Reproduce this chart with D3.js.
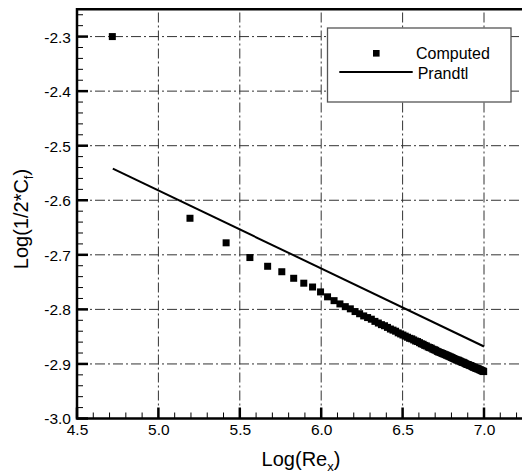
<!DOCTYPE html>
<html>
<head>
<meta charset="utf-8">
<script src="https://cdn.jsdelivr.net/npm/d3@7"></script>
<style>
  body { margin: 0; background: #ffffff; }
  svg text { font-family: "Liberation Sans", Arial, sans-serif; fill: #000; }
</style>
</head>
<body>
<svg id="viz" width="522" height="475"></svg>
<script>
// computed skin friction: log(Re_x) and log(Cf/2)
const computed_x = [4.717, 5.194, 5.416, 5.562, 5.671, 5.758, 5.831, 5.893, 5.947, 5.996,
  6.039, 6.079, 6.115, 6.148, 6.179, 6.208, 6.236, 6.261, 6.285, 6.308,
  6.330, 6.351, 6.370, 6.389, 6.407, 6.425, 6.441, 6.457, 6.473, 6.488,
  6.502, 6.516, 6.530, 6.543, 6.556, 6.568, 6.580, 6.592, 6.604, 6.615,
  6.626, 6.636, 6.646, 6.657, 6.666, 6.676, 6.686, 6.695, 6.704, 6.713,
  6.721, 6.730, 6.738, 6.746, 6.754, 6.762, 6.770, 6.778, 6.785, 6.793,
  6.800, 6.807, 6.814, 6.821, 6.828, 6.834, 6.841, 6.847, 6.854, 6.860,
  6.866, 6.872, 6.878, 6.884, 6.890, 6.896, 6.902, 6.907, 6.913, 6.918,
  6.924, 6.929, 6.935, 6.940, 6.945, 6.950, 6.955, 6.960, 6.965, 6.970,
  6.975, 6.980, 6.984, 6.989, 6.994, 6.998];
const computed_y = [-2.300, -2.633, -2.678, -2.705, -2.721, -2.731, -2.743, -2.752, -2.759, -2.768,
  -2.777, -2.784, -2.790, -2.795, -2.799, -2.804, -2.808, -2.812, -2.815, -2.818,
  -2.822, -2.825, -2.828, -2.830, -2.833, -2.836, -2.838, -2.840, -2.843, -2.845,
  -2.847, -2.849, -2.851, -2.853, -2.854, -2.856, -2.858, -2.859, -2.861, -2.863,
  -2.864, -2.866, -2.867, -2.869, -2.870, -2.871, -2.873, -2.874, -2.875, -2.877,
  -2.878, -2.879, -2.880, -2.881, -2.882, -2.883, -2.884, -2.885, -2.886, -2.887,
  -2.888, -2.889, -2.890, -2.891, -2.892, -2.893, -2.893, -2.894, -2.895, -2.896,
  -2.897, -2.897, -2.898, -2.899, -2.900, -2.901, -2.901, -2.902, -2.903, -2.903,
  -2.904, -2.905, -2.906, -2.906, -2.907, -2.908, -2.908, -2.909, -2.909, -2.910,
  -2.911, -2.911, -2.912, -2.913, -2.913, -2.914];

// Prandtl reference line
const prandtl_x = [4.72, 7.0];
const prandtl_y = [-2.542, -2.868];

const x_ticks = [4.5, 5.0, 5.5, 6.0, 6.5, 7.0];
const y_ticks = [-3.0, -2.9, -2.8, -2.7, -2.6, -2.5, -2.4, -2.3];
const legend_names = ["Computed", "Prandtl"];

let svg = d3.select("#viz");

let x = d3.scaleLinear().domain([4.5, 7.25]).range([77, 524.7]);
let y = d3.scaleLinear().domain([-3.0, -2.25]).range([418.5, 9.3]);

let p_left = x(4.5), p_right = x(7.25), p_top = y(-2.25), p_bottom = y(-3.0);

// plain hyphen for the minus sign, like the original
let fmt = d => d.toFixed(1);

// dash-dot grid at the major ticks
let grid = svg.append("g").attr("id", "grid")
    .attr("stroke", "#333").attr("stroke-width", 1)
    .attr("stroke-dasharray", "10,3,2,3");
grid.selectAll(".gx")
    .data(x_ticks.slice(1))
    .join("line")
    .attr("x1", d => x(d)).attr("x2", d => x(d))
    .attr("y1", p_bottom).attr("y2", p_top);
grid.selectAll(".gy")
    .data(y_ticks.slice(1))
    .join("line")
    .attr("x1", p_left).attr("x2", p_right)
    .attr("y1", d => y(d)).attr("y2", d => y(d));

// tick marks, drawn inside the frame
let x_minor = d3.range(45, 73).map(d => d / 10);
let y_minor = d3.range(-150, -112).map(d => d / 50);

let ticks = svg.append("g").attr("id", "ticks").attr("stroke", "#000");
ticks.selectAll(".xmin").data(x_minor).join("line").classed("xmin", true)
    .attr("x1", d => x(d)).attr("x2", d => x(d))
    .attr("y1", p_bottom).attr("y2", p_bottom - 6)
    .attr("stroke-width", 1);
ticks.selectAll(".ymin").data(y_minor).join("line").classed("ymin", true)
    .attr("x1", p_left).attr("x2", p_left + 6)
    .attr("y1", d => y(d)).attr("y2", d => y(d))
    .attr("stroke-width", 1);
ticks.selectAll(".xmaj").data(x_ticks).join("line").classed("xmaj", true)
    .attr("x1", d => x(d)).attr("x2", d => x(d))
    .attr("y1", p_bottom).attr("y2", p_bottom - 11)
    .attr("stroke-width", 2.5);
ticks.selectAll(".ymaj").data(y_ticks).join("line").classed("ymaj", true)
    .attr("x1", p_left).attr("x2", p_left + 11)
    .attr("y1", d => y(d)).attr("y2", d => y(d))
    .attr("stroke-width", 2.5);

// tick labels through the axis generators
svg.append("g")
    .attr("transform", `translate(0,${p_bottom})`)
    .call(d3.axisBottom(x).tickValues(x_ticks).tickSize(0).tickFormat(fmt))
    .call(g => g.select(".domain").remove())
    .call(g => g.selectAll("line").remove())
    .call(g => g.selectAll("text").attr("font-size", 15.5).attr("y", 16.5).attr("dy", "0"));
svg.append("g")
    .attr("transform", `translate(${p_left},0)`)
    .call(d3.axisLeft(y).tickValues(y_ticks).tickSize(0).tickFormat(fmt))
    .call(g => g.select(".domain").remove())
    .call(g => g.selectAll("line").remove())
    .call(g => g.selectAll("text").attr("font-size", 15.5).attr("x", -6).attr("dy", "0.35em"));

// frame: left, bottom, top
svg.append("path")
    .attr("d", `M${p_right},${p_top}H${p_left}V${p_bottom}H${p_right}`)
    .attr("fill", "none").attr("stroke", "#000").attr("stroke-width", 2.5);

// Prandtl line
let line = d3.line().x(d => x(d[0])).y(d => y(d[1]));
svg.append("path")
    .datum(d3.zip(prandtl_x, prandtl_y))
    .attr("d", line)
    .attr("fill", "none").attr("stroke", "#000").attr("stroke-width", 2);

// computed points as squares
let sq = 7;
svg.append("g").selectAll("rect")
    .data(d3.zip(computed_x, computed_y))
    .join("rect")
    .attr("x", d => x(d[0]) - sq / 2)
    .attr("y", d => y(d[1]) - sq / 2)
    .attr("width", sq).attr("height", sq)
    .attr("fill", "#000");

// legend
let legend = svg.append("g").attr("id", "legend");
legend.append("rect")
    .attr("x", 327.5).attr("y", 28).attr("width", 183.5).attr("height", 74)
    .attr("fill", "#fff").attr("stroke", "#555").attr("stroke-width", 1.3);
legend.append("rect")
    .attr("x", 376.3 - 3.3).attr("y", 53.3 - 3.3).attr("width", 6.6).attr("height", 6.6)
    .attr("fill", "#000");
legend.append("line")
    .attr("x1", 339.3).attr("x2", 412.7).attr("y1", 72).attr("y2", 72)
    .attr("stroke", "#000").attr("stroke-width", 2);
legend.selectAll("text")
    .data(legend_names)
    .join("text")
    .attr("x", (d, i) => i == 0 ? 416 : 417.7)
    .attr("y", (d, i) => i == 0 ? 59.3 : 79.3)
    .attr("font-size", 16)
    .text(d => d);

// axis titles
let xt = svg.append("text")
    .attr("x", 301).attr("y", 466)
    .attr("text-anchor", "middle").attr("font-size", 20);
xt.append("tspan").text("Log(Re");
xt.append("tspan").attr("font-size", 13).attr("dy", 5).text("x");
xt.append("tspan").attr("dy", -5).text(")");

let yt = svg.append("text")
    .attr("transform", "translate(28,219) rotate(-90)")
    .attr("text-anchor", "middle").attr("font-size", 20);
yt.append("tspan").text("Log(1/2*C");
yt.append("tspan").attr("font-size", 13).attr("dy", 5).text("f");
yt.append("tspan").attr("dy", -5).text(")");
</script>
</body>
</html>
